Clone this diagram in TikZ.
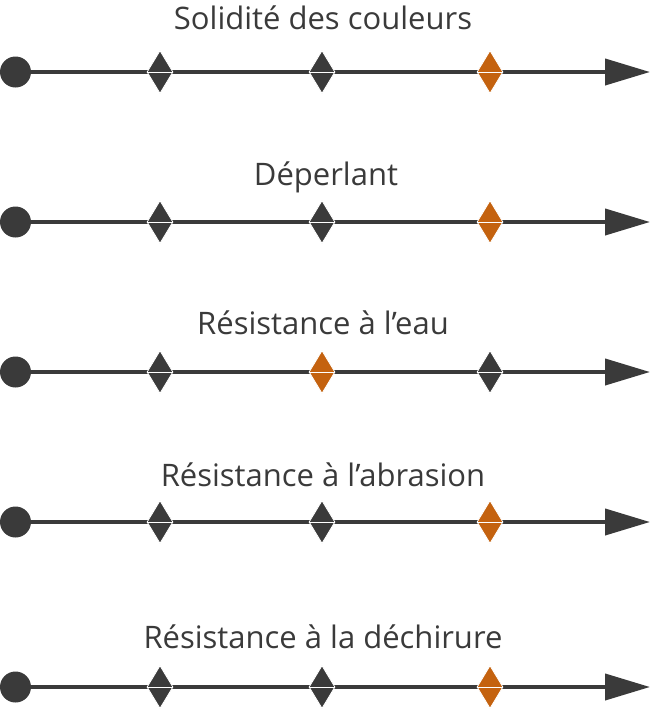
\documentclass[tikz,border=0pt]{standalone}
\usepackage{fontspec}
\setmainfont{Open Sans}
\usepackage{tikz}
\usetikzlibrary{arrows.meta,shapes.geometric,backgrounds}
\definecolor{axisgray}{HTML}{3A3A3A}
\definecolor{markorange}{HTML}{C4620F}
\tikzset{
  axis/.style={-{Triangle[length=45pt,width=26pt]},line width=4pt,axisgray},
  origin/.style={circle,fill=axisgray,inner sep=0pt,minimum size=31pt},
  level/.style={diamond,fill=axisgray,draw=white,line width=0.8pt,inner sep=0pt,
    minimum width=26pt,minimum height=43pt},
  chosen/.style={level,fill=markorange},
  split/.style={white,line width=1pt},
  title/.style={anchor=base,font=\fontsize{31}{34}\selectfont,text=axisgray}
}

\begin{document}
\begin{tikzpicture}[x=1pt,y=-1pt]
\useasboundingbox (0,0) rectangle (650,710);
% Solidite des couleurs
\node[title] (t1) at (323,29) {Solidité des couleurs};
\node[origin] (o1) at (15.5,72) {};
\node[level] (a1) at (160,72) {};
\node[level] (b1) at (322,72) {};
\node[chosen] (c1) at (490,72) {};
\coordinate (e1) at (650,72);
% Deperlant
\node[title] (t2) at (326,185) {Déperlant};
\node[origin] (o2) at (15.5,222) {};
\node[level] (a2) at (160,222) {};
\node[level] (b2) at (322,222) {};
\node[chosen] (c2) at (490,222) {};
\coordinate (e2) at (650,222);
% Resistance a l'eau
\node[title] (t3) at (323,334) {Résistance à l’eau};
\node[origin] (o3) at (15.5,372) {};
\node[level] (a3) at (160,372) {};
\node[chosen] (b3) at (322,372) {};
\node[level] (c3) at (490,372) {};
\coordinate (e3) at (650,372);
% Resistance a l'abrasion
\node[title] (t4) at (323,486) {Résistance à l’abrasion};
\node[origin] (o4) at (15.5,522) {};
\node[level] (a4) at (160,522) {};
\node[level] (b4) at (322,522) {};
\node[chosen] (c4) at (490,522) {};
\coordinate (e4) at (650,522);
% Resistance a la dechirure
\node[title] (t5) at (323,648) {Résistance à la déchirure};
\node[origin] (o5) at (15.5,687) {};
\node[level] (a5) at (160,687) {};
\node[level] (b5) at (322,687) {};
\node[chosen] (c5) at (490,687) {};
\coordinate (e5) at (650,687);

\begin{pgfonlayer}{background}
\draw[axis] (o1)--(e1);
\draw[axis] (o2)--(e2);
\draw[axis] (o3)--(e3);
\draw[axis] (o4)--(e4);
\draw[axis] (o5)--(e5);
\end{pgfonlayer}

\draw[split] (a1.west)--(a1.east) (b1.west)--(b1.east) (c1.west)--(c1.east);
\draw[split] (a2.west)--(a2.east) (b2.west)--(b2.east) (c2.west)--(c2.east);
\draw[split] (a3.west)--(a3.east) (b3.west)--(b3.east) (c3.west)--(c3.east);
\draw[split] (a4.west)--(a4.east) (b4.west)--(b4.east) (c4.west)--(c4.east);
\draw[split] (a5.west)--(a5.east) (b5.west)--(b5.east) (c5.west)--(c5.east);
\end{tikzpicture}
\end{document}
